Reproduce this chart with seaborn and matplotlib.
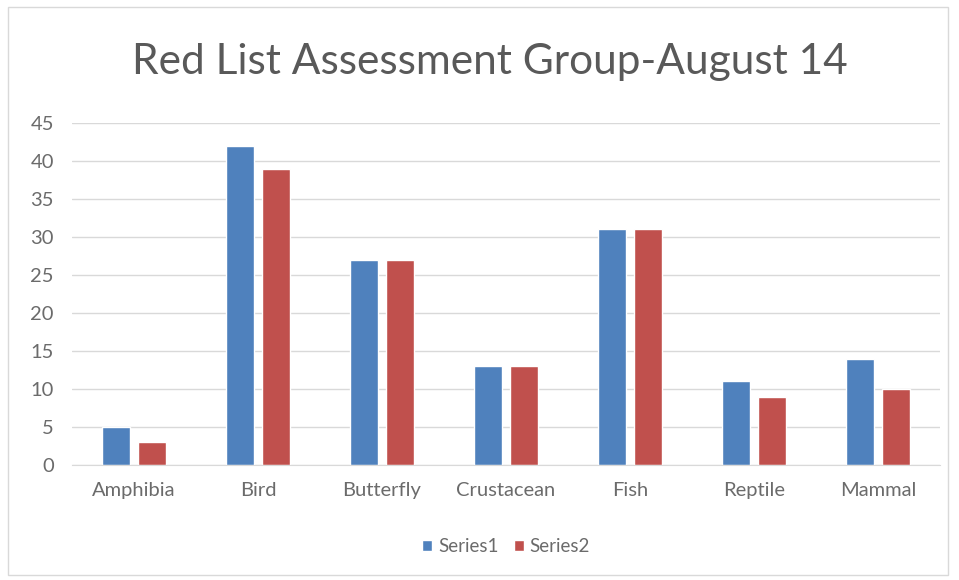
import matplotlib
matplotlib.use("Agg")
import matplotlib.pyplot as plt
import seaborn as sns
import pandas as pd
from matplotlib.patches import Rectangle

categories = ["Amphibia", "Bird", "Butterfly", "Crustacean", "Fish", "Reptile", "Mammal"]
series1 = [5, 42, 27, 13, 31, 11, 14]
series2 = [3, 39, 27, 13, 31, 9, 10]
series_names = ["Series1", "Series2"]
title = "Red List Assessment Group-August 14"

df = pd.DataFrame({
    "category": categories * 2,
    "value": series1 + series2,
    "series": [series_names[0]] * len(categories) + [series_names[1]] * len(categories),
})

sns.set_style("white")
plt.rcParams["font.family"] = ["Lato", "DejaVu Sans"]

fig = plt.figure(figsize=(9.59, 5.80), dpi=100)
ax = fig.add_axes([72 / 959, 1 - 465 / 580, 868 / 959, 342 / 580])

sns.barplot(data=df, x="category", y="value", hue="series", order=categories,
            palette=["#4F81BD", "#C0504D"], width=0.58, gap=0.22, ax=ax,
            saturation=1, legend=True)

ax.set_ylim(0, 45)
ax.set_yticks(range(0, 46, 5))
ax.set_xlim(-0.5, len(categories) - 0.5)
ax.yaxis.grid(True, color="#D9D9D9", linewidth=1)
ax.set_axisbelow(True)
for s in ["top", "right", "left"]:
    ax.spines[s].set_visible(False)
ax.spines["bottom"].set_color("#D9D9D9")
ax.tick_params(axis="both", length=0, labelsize=14.5, colors="#6B6B6B")
ax.tick_params(axis="x", pad=12)
ax.tick_params(axis="y", pad=13)
ax.set_xlabel("")
ax.set_ylabel("")

leg = ax.legend(loc="upper center", bbox_to_anchor=(0.5, -0.165), ncol=2, frameon=False,
                fontsize=13.5, handlelength=0.55, handleheight=0.55, handletextpad=0.3,
                columnspacing=0.8)
for t in leg.get_texts():
    t.set_color("#6B6B6B")

fig.text(490 / 959, 1 - 62 / 580, title, ha="center", va="center", fontsize=30.5, color="#595959")

fig.patches.append(Rectangle((8 / 959, 5 / 580), 940 / 959, 568 / 580, transform=fig.transFigure,
                             fill=False, edgecolor="#D9D9D9", linewidth=1))

fig.savefig("out.png", dpi=100)
